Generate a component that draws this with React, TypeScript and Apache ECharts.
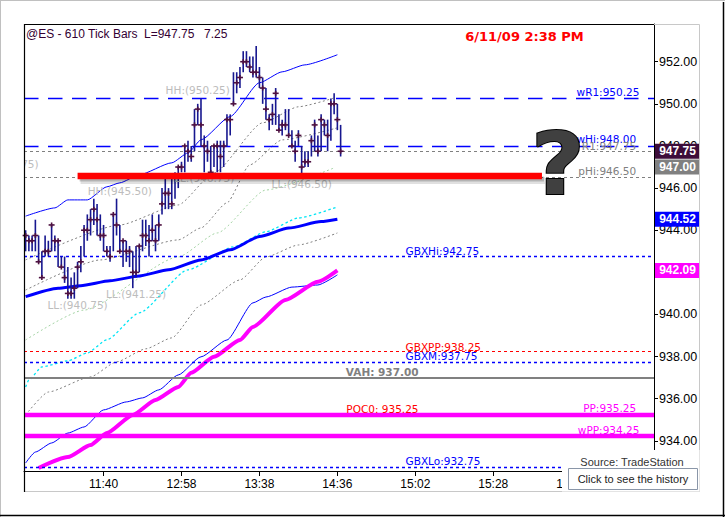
import React, { useEffect, useRef } from 'react';
import * as echarts from 'echarts';

// ---------- data ----------
const timeLabels = ['11:40', '12:58', '13:38', '14:36', '15:02', '15:28', '15:54'];
const tickStep = 24;
const slotCount = 194;
const priceTicks = [934, 936, 938, 940, 942, 944, 946, 948, 950, 952];

const barHigh = [
  944.0, 943.75, 943.75, 944.5, 943.75, 943.0, 943.75, 943.5, 944.25, 943.75,
  943.5, 942.75, 942.75, 942.25, 941.75, 942.0, 942.5, 943.25, 944.25, 944.75,
  945.0, 945.5, 945.25, 944.75, 944.25, 943.25, 943.25, 944.75, 945.5, 944.25,
  943.5, 943.5, 943.25, 943.0, 943.25, 943.25, 944.5, 944.5, 944.25, 944.75,
  944.25, 944.75, 946.0, 946.5, 946.0, 946.5, 946.75, 947.0, 947.25, 948.0,
  948.25, 948.0, 949.75, 950.0, 950.25, 948.5, 948.25, 948.0, 948.0, 948.25,
  948.25, 948.25, 949.5, 949.5, 951.5, 951.5, 951.75, 952.5, 952.5, 952.25,
  952.25, 952.75, 951.75, 951.25, 950.75, 949.5, 950.0, 950.75, 949.5, 949.25,
  949.75, 949.75, 948.75, 948.25, 948.75, 948.0, 947.75, 947.75, 948.5, 949.25,
  948.5, 949.5, 949.25, 949.25, 950.25, 950.5, 950.0, 949.0,
];
const barLow = [
  943.0, 943.0, 943.0, 943.0, 942.5, 941.75, 942.75, 942.75, 943.0, 943.0,
  942.25, 942.25, 941.5, 940.75, 940.75, 940.75, 941.25, 942.0, 942.75, 943.5,
  943.75, 944.25, 943.75, 943.5, 943.0, 942.75, 942.5, 943.0, 943.75, 943.0,
  942.25, 942.5, 942.25, 941.25, 941.75, 942.0, 943.0, 943.25, 942.75, 943.5,
  943.0, 943.5, 944.75, 945.0, 945.0, 945.0, 945.5, 946.0, 946.75, 946.75,
  947.25, 947.25, 947.75, 949.0, 948.0, 946.75, 947.25, 946.75, 947.0, 946.75,
  946.75, 947.0, 948.0, 948.5, 950.0, 950.5, 950.75, 951.5, 951.75, 951.5,
  951.25, 951.25, 950.75, 950.0, 949.25, 948.75, 949.0, 949.0, 948.75, 948.5,
  948.75, 948.5, 948.0, 947.25, 948.0, 946.5, 947.0, 947.0, 947.5, 947.75,
  947.5, 947.75, 948.5, 947.75, 948.25, 949.5, 948.75, 947.5,
];
const barClose = [
  943.75, 943.5, 943.5, 943.75, 942.5, 941.75, 943.0, 943.0, 944.25, 943.5,
  943.5, 942.25, 941.75, 941.0, 941.0, 941.25, 942.25, 942.5, 944.0, 944.0,
  944.5, 945.0, 944.5, 943.75, 943.75, 943.0, 942.75, 944.75, 944.25, 943.0,
  943.5, 943.0, 943.0, 942.0, 942.0, 943.25, 943.75, 943.75, 943.5, 944.0,
  943.5, 944.25, 945.25, 945.75, 945.75, 945.25, 946.5, 947.0, 947.0, 948.0,
  947.75, 947.5, 949.0, 949.75, 949.0, 948.0, 947.75, 946.75, 948.0, 948.0,
  947.5, 948.0, 949.25, 949.25, 950.0, 951.0, 951.25, 952.0, 952.0, 951.75,
  951.5, 951.5, 951.25, 950.75, 949.75, 949.25, 949.5, 950.5, 948.75, 949.0,
  949.0, 948.5, 948.0, 947.75, 948.5, 947.0, 947.25, 947.25, 948.25, 949.0,
  947.75, 949.25, 949.0, 948.5, 950.0, 950.0, 949.25, 947.75,
];

// indicator lines: [bar index, price]
const upperBand = [[0, 944.67], [9, 945.06], [13, 945.44], [19, 945.44], [25, 946.06], [29, 946.25], [35, 946.63], [45, 947.2], [50, 947.67], [54, 948.29], [63, 949.4], [72, 951.0], [79, 951.52], [86, 951.85], [96, 952.33]];
const averageLine = [[0, 940.85], [10, 941.25], [17, 941.37], [26, 941.6], [35, 941.83], [44, 942.12], [54, 942.59], [63, 943.07], [72, 943.7], [81, 944.1], [91, 944.41], [96, 944.52]];
const cyanLine = [[0, 936.56], [1, 936.89], [5, 937.51], [13, 937.8], [19, 938.17], [25, 938.8], [35, 940.08], [50, 942.12], [64, 943.21], [74, 943.93], [84, 944.58], [96, 945.11]];
const grayHigh = [[0, 942.59], [29, 944.25], [47, 945.2], [58, 946.72], [73, 949.1], [84, 949.86], [95, 950.28]];
const grayMid = [[0, 941.16], [23, 942.59], [47, 943.54], [54, 944.11], [62, 945.3], [69, 947.1], [79, 948.29], [96, 948.86]];
const greenLine = [[0, 938.79], [18, 940.21], [47, 942.73], [59, 943.87], [74, 945.91], [95, 946.96]];
const grayLow = [[0, 935.23], [7, 936.32], [20, 937.04], [28, 937.75], [37, 938.37], [45, 938.89], [54, 940.45], [66, 941.64], [74, 942.73], [84, 943.3], [96, 943.87]];
const lowerBand = [[0, 932.95], [3, 933.47], [8, 933.9], [13, 934.37], [18, 934.66], [24, 935.47], [31, 935.85], [36, 936.04], [41, 936.42], [47, 937.13], [54, 937.99], [62, 938.79], [70, 940.55], [74, 940.83], [82, 941.3], [90, 941.4], [96, 941.88]];
const magentaLine = [[4, 932.71], [13, 933.23], [20, 933.8], [25, 934.37], [33, 935.23], [40, 935.94], [47, 936.56], [51, 937.23], [58, 937.99], [66, 938.79], [70, 939.41], [80, 940.69], [90, 941.55], [96, 942.09]];

// horizontal levels
const levelValues = [950.25, 948.0, 947.75, 946.5, 942.75, 938.25, 937.75, 937.0, 935.25, 934.25, 932.75];
const levelLabelTexts = ['wR1:950.25', 'wHi:948.00', 'R1:947.75', 'pHi:946.50', 'GBXHi:942.75', 'GBXPP:938.25', 'GBXM:937.75', 'VAH: 937.00', 'POC0: 935.25', 'PP:935.25', 'wPP:934.25', 'GBXLo:932.75'];
const levelLabelValues = [950.25, 948.0, 947.75, 946.5, 942.75, 938.25, 937.75, 937.0, 935.25, 935.25, 934.25, 932.75];

// swing high / low labels (the last one is cut by the chart's left edge)
const swingTexts = ['HH:(950.25)', 'HH:(945.50)', 'LL:(940.75)', 'LL:(941.25)', 'LL:(946.50)', 'LL:(946.75)', '75)'];
const swingValues = [950.25, 945.5, 940.75, 941.25, 946.5, 946.75, 947.75];
const swingBars = [53, 29, 16, 34, 85, 55, 4];

// price tags on the axis
const tagValues = [947.75, 947.0, 944.52, 942.09];

// hand-drawn marker line: [from bar, price, to bar]
const markerLine = [[16, 946.57, 159]];

// ---------- styles ----------
const BLUE = '#0000ff';
const RED = '#ff0000';
const GRAY = '#808080';
const MAGENTA = '#ff00ff';
const levelStyles = [
  { color: BLUE, width: 1.3, type: [14.5, 9.5] },
  { color: BLUE, width: 1.3, type: [14.5, 9.5] },
  { color: GRAY, width: 1, type: [3, 3] },
  { color: GRAY, width: 1, type: [3, 3] },
  { color: BLUE, width: 1.3, type: [3, 3] },
  { color: RED, width: 1.2, type: [3, 3] },
  { color: BLUE, width: 1.3, type: [3, 3] },
  { color: GRAY, width: 2.2, type: 'solid' },
  { color: MAGENTA, width: 4.3, type: 'solid' },
  { color: MAGENTA, width: 4.3, type: 'solid' },
  { color: BLUE, width: 1.3, type: [3, 3] },
];
const levelLabelLayout = [
  { bar: 189, align: 'right', color: BLUE, dy: -6.5 },
  { bar: 188, align: 'right', color: BLUE, dy: -6.5 },
  { bar: 188, align: 'right', color: GRAY, dy: -5 },
  { bar: 188, align: 'right', color: GRAY, dy: -6.5 },
  { bar: 117, align: 'left', color: BLUE, dy: -6 },
  { bar: 117, align: 'left', color: RED, dy: -4.5 },
  { bar: 117, align: 'left', color: BLUE, dy: -6 },
  { bar: 121, align: 'right', color: GRAY, dy: -5.5, bold: true },
  { bar: 121, align: 'right', color: RED, dy: -5.5 },
  { bar: 188, align: 'right', color: MAGENTA, dy: -6.5 },
  { bar: 189, align: 'right', color: MAGENTA, dy: -6 },
  { bar: 117, align: 'left', color: BLUE, dy: -6 },
];
const swingLayout = [
  { dy: -8.5, align: 'center' },
  { dy: -8, align: 'center' },
  { dy: 6.5, align: 'center' },
  { dy: 6, align: 'center' },
  { dy: 6, align: 'center' },
  { dy: 6, align: 'center' },
  { dy: 13, align: 'right' },
];
const tagColors = ['#3d0d3a', '#808080', '#0000ff', '#ff00ff'];

const LABEL_FONT = '10.5px "DejaVu Sans"';

function indicator(data: number[][], color: string, width: number, type: any, z: number) {
  return {
    type: 'line',
    data,
    symbol: 'none',
    showSymbol: false,
    smooth: 0.2,
    smoothMonotone: 'x',
    silent: true,
    z,
    lineStyle: { color, width, type },
  };
}

export default function App() {
  const ref = useRef<HTMLDivElement>(null);

  useEffect(() => {
    if (!ref.current) return;
    const chart = echarts.init(ref.current, undefined, { renderer: 'svg' });
    const categories = Array.from({ length: slotCount }, (_, i) => String(i));
    const isTick = (i: number) => i > 0 && i % tickStep === 0 && i / tickStep <= timeLabels.length;

    const option: any = {
      animation: false,
      backgroundColor: '#ffffff',
      grid: { left: 24, top: 24, width: 630, height: 447, show: false },
      xAxis: {
        type: 'category',
        data: categories,
        boundaryGap: true,
        axisLine: { show: true, lineStyle: { color: '#000', width: 1 } },
        axisTick: { show: true, interval: (i: number) => isTick(i), alignWithLabel: true, length: 5, lineStyle: { color: '#000' } },
        axisLabel: {
          interval: (i: number) => isTick(i),
          formatter: (_v: string, i: number) => timeLabels[i / tickStep - 1] || '',
          color: '#000',
          fontFamily: 'Liberation Sans',
          fontSize: 12,
          margin: 7,
        },
        splitLine: { show: false },
      },
      yAxis: {
        type: 'value',
        position: 'right',
        min: 932.57,
        max: 953.79,
        axisLine: { show: true, lineStyle: { color: '#000', width: 1 } },
        axisTick: { show: true, customValues: priceTicks, length: 4, lineStyle: { color: '#000' } },
        axisLabel: {
          customValues: priceTicks,
          formatter: (v: number) => v.toFixed(2),
          color: '#000',
          fontFamily: 'Liberation Sans',
          fontSize: 12.5,
          margin: 5,
        },
        splitLine: { show: false },
      },
      series: [
        indicator(grayLow, GRAY, 1, [2, 2.5], 2),
        indicator(grayMid, GRAY, 1, [2, 2.5], 2),
        indicator(grayHigh, GRAY, 1, [2, 2.5], 2),
        indicator(greenLine, '#a3d3a3', 1, [2, 2.5], 2),
        indicator(cyanLine, '#00e5f5', 1.3, [2.5, 2.5], 2),
        indicator(lowerBand, BLUE, 1, 'solid', 2),
        indicator(upperBand, BLUE, 1, 'solid', 2),
        {
          type: 'line',
          data: [],
          silent: true,
          z: 3,
          markLine: {
            silent: true,
            symbol: ['none', 'none'],
            animation: false,
            label: { show: false },
            data: levelValues.map((v, k) => ({ yAxis: v, lineStyle: levelStyles[k] })),
          },
        },
        indicator(averageLine, BLUE, 3, 'solid', 4),
        indicator(magentaLine, MAGENTA, 4, 'solid', 4),
        {
          type: 'custom',
          z: 5,
          silent: true,
          data: barHigh.map((h, i) => [i, h, barLow[i], barClose[i]]),
          encode: { x: 0, y: [1, 2, 3] },
          renderItem: (_p: any, api: any) => {
            const i = api.value(0);
            const ph = api.coord([i, api.value(1)]);
            const pl = api.coord([i, api.value(2)]);
            const pc = api.coord([i, api.value(3)]);
            return {
              type: 'group',
              children: [
                { type: 'line', shape: { x1: ph[0], y1: ph[1], x2: pl[0], y2: pl[1] }, style: { stroke: '#17178f', lineWidth: 1.6 } },
                { type: 'line', shape: { x1: pc[0] - 3, y1: pc[1], x2: pc[0] + 3, y2: pc[1] }, style: { stroke: '#4d1040', lineWidth: 1.6 } },
                { type: 'line', shape: { x1: pc[0], y1: pc[1] - 2.5, x2: pc[0], y2: pc[1] + 2.5 }, style: { stroke: '#4d1040', lineWidth: 1.6 } },
              ],
            };
          },
        },
        {
          type: 'custom',
          z: 6,
          silent: true,
          clip: true,
          data: swingValues.map((v, k) => [swingBars[k], v]),
          encode: { x: 0, y: 1 },
          renderItem: (p: any, api: any) => {
            const k = p.dataIndex;
            const pt = api.coord([api.value(0), api.value(1)]);
            return {
              type: 'text',
              x: pt[0],
              y: pt[1] + swingLayout[k].dy,
              style: { text: swingTexts[k], fill: '#bdbdbd', font: LABEL_FONT, align: swingLayout[k].align, verticalAlign: 'middle' },
            };
          },
        },
        {
          type: 'custom',
          z: 7,
          silent: true,
          data: levelLabelValues.map((v, k) => [levelLabelLayout[k].bar, v]),
          encode: { x: 0, y: 1 },
          renderItem: (p: any, api: any) => {
            const k = p.dataIndex;
            const lay: any = levelLabelLayout[k];
            const pt = api.coord([api.value(0), api.value(1)]);
            return {
              type: 'text',
              x: pt[0],
              y: pt[1] + lay.dy,
              style: {
                text: levelLabelTexts[k],
                fill: lay.color,
                font: (lay.bold ? 'bold ' : '') + LABEL_FONT,
                align: lay.align,
                verticalAlign: 'middle',
              },
            };
          },
        },
        {
          type: 'custom',
          z: 20,
          silent: true,
          data: markerLine,
          encode: { x: [0, 2], y: 1 },
          renderItem: (_p: any, api: any) => {
            const a = api.coord([api.value(0), api.value(1)]);
            const b = api.coord([api.value(2), api.value(1)]);
            const w = b[0] - a[0];
            return {
              type: 'group',
              children: [
                { type: 'rect', shape: { x: a[0] + 3, y: a[1] + 1, width: w, height: 7 }, style: { fill: 'rgba(0,0,0,0.12)' } },
                { type: 'rect', shape: { x: a[0] + 2, y: a[1] + 0.5, width: w, height: 5 }, style: { fill: 'rgba(0,0,0,0.2)' } },
                { type: 'rect', shape: { x: a[0], y: a[1] - 3.25, width: w, height: 6.5 }, style: { fill: RED } },
              ],
            };
          },
        },
        {
          type: 'custom',
          z: 30,
          silent: true,
          clip: false,
          data: tagValues.map((v) => [0, v]),
          encode: { x: 0, y: 1 },
          renderItem: (p: any, api: any) => {
            const cs = p.coordSys;
            const y = api.coord([0, api.value(1)])[1];
            const x = cs.x + cs.width + 1;
            return {
              type: 'group',
              children: [
                { type: 'rect', shape: { x, y: y - 7.5, width: 45, height: 15 }, style: { fill: tagColors[p.dataIndex] } },
                {
                  type: 'text',
                  x: x + 22.5,
                  y,
                  style: { text: Number(api.value(1)).toFixed(2), fill: '#ffffff', font: 'bold 12px "Liberation Sans"', align: 'center', verticalAlign: 'middle' },
                },
              ],
            };
          },
        },
      ],
      graphic: [
        // outer page border
        { type: 'line', z: 50, shape: { x1: 0, y1: 0.5, x2: 725, y2: 0.5 }, style: { stroke: '#c0c0c0', lineWidth: 1 } },
        { type: 'line', z: 50, shape: { x1: 0.5, y1: 0, x2: 0.5, y2: 517 }, style: { stroke: '#c0c0c0', lineWidth: 1 } },
        { type: 'line', z: 50, shape: { x1: 723.5, y1: 2, x2: 723.5, y2: 517 }, style: { stroke: '#000', lineWidth: 1.5 } },
        { type: 'line', z: 50, shape: { x1: 0, y1: 515.5, x2: 725, y2: 515.5 }, style: { stroke: '#000', lineWidth: 1.5 } },
        // chart frame
        { type: 'rect', z: 50, shape: { x: 24.5, y: 24.5, width: 675, height: 467 }, style: { fill: 'none', stroke: '#c8c8c8', lineWidth: 1 } },
        { type: 'line', z: 51, shape: { x1: 24, y1: 24.5, x2: 654, y2: 24.5 }, style: { stroke: '#000', lineWidth: 1 } },
        { type: 'line', z: 51, shape: { x1: 24.5, y1: 24, x2: 24.5, y2: 492 }, style: { stroke: '#000', lineWidth: 1.2 } },
        // titles
        { type: 'text', z: 60, x: 26, y: 34, style: { text: '@ES - 610 Tick Bars', font: '12px "Liberation Sans"', fill: '#330033', verticalAlign: 'middle' } },
        { type: 'text', z: 60, x: 144, y: 34, style: { text: 'L=947.75', font: '12px "Liberation Sans"', fill: '#330033', verticalAlign: 'middle' } },
        { type: 'text', z: 60, x: 204, y: 34, style: { text: '7.25', font: '12px "Liberation Sans"', fill: '#330033', verticalAlign: 'middle' } },
        { type: 'text', z: 60, x: 524.5, y: 36, style: { text: '6/11/09 2:38 PM', font: 'bold 13px "DejaVu Sans"', fill: '#ff0000', align: 'center', verticalAlign: 'middle' } },
        // question mark
        {
          type: 'text', z: 100, x: 558, y: 164, scaleX: 1.08, originX: 0, originY: 0,
          style: {
            text: '?', font: 'bold 86px "DejaVu Sans"', fill: '#404040', stroke: '#000', lineWidth: 2,
            align: 'center', verticalAlign: 'middle',
            shadowBlur: 6, shadowColor: 'rgba(0,0,0,0.55)', shadowOffsetX: 5, shadowOffsetY: 5,
          },
        },
        // source panel
        { type: 'rect', z: 100, shape: { x: 562, y: 450, width: 137.5, height: 41.5 }, style: { fill: '#ffffff' } },
        { type: 'text', z: 101, x: 632, y: 461.5, style: { text: 'Source: TradeStation', font: '11px "Liberation Sans"', fill: '#333', align: 'center', verticalAlign: 'middle' } },
        { type: 'rect', z: 101, shape: { x: 568.5, y: 468.5, width: 129, height: 21 }, style: { fill: '#ffffff', stroke: '#8a96a8', lineWidth: 1 } },
        { type: 'text', z: 102, x: 633, y: 479, style: { text: 'Click to see the history', font: '11px "Liberation Sans"', fill: '#222', align: 'center', verticalAlign: 'middle' } },
      ],
    };

    chart.setOption(option);
    return () => chart.dispose();
  }, []);

  return <div ref={ref} style={{ position: 'absolute', left: 0, top: 0, width: 725, height: 517, background: '#fff' }} />;
}
